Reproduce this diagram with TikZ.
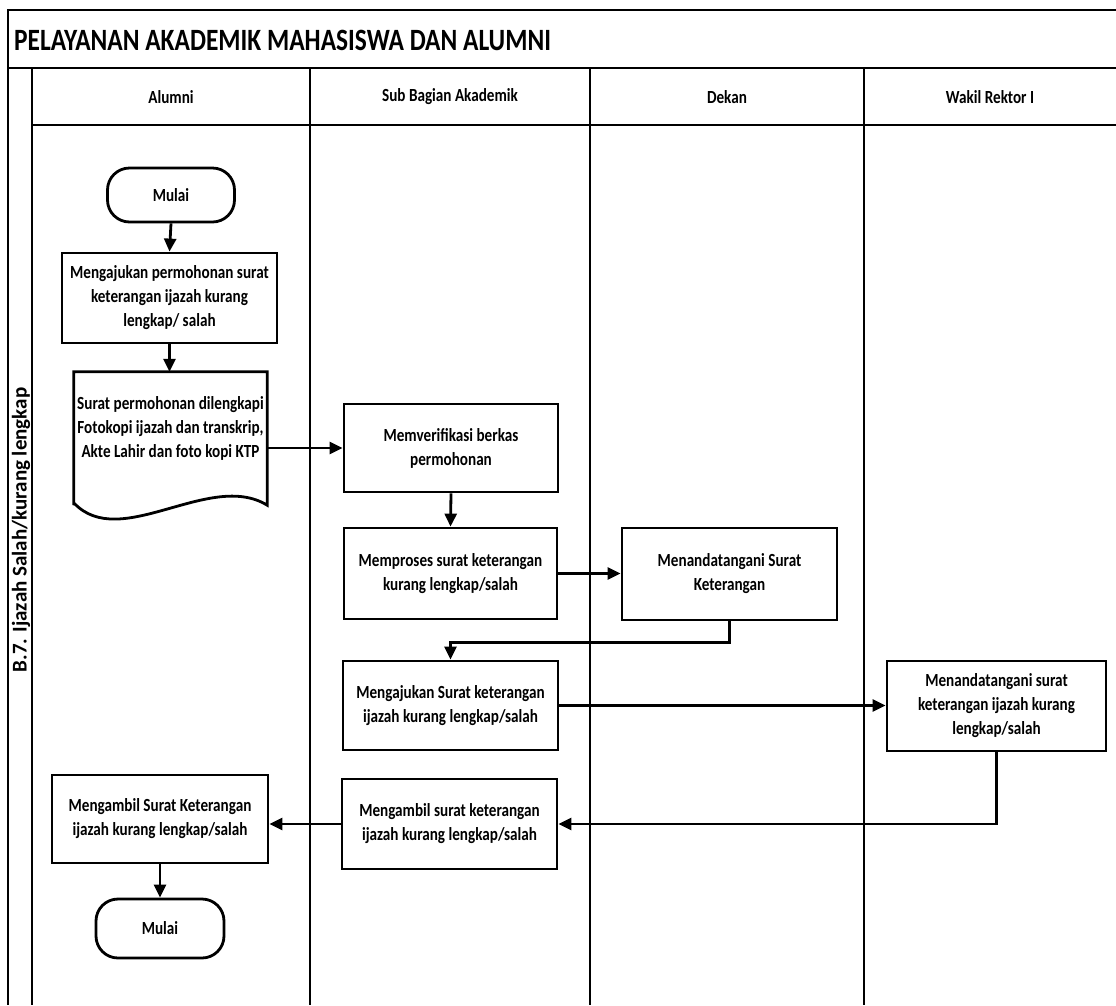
\documentclass[tikz,border=0pt]{standalone}
\usepackage{fontspec}
\setmainfont{Carlito}[FakeStretch=0.82]
\newfontfamily\vfont{Carlito}
\usetikzlibrary{arrows.meta,calc}
\tikzset{
  x=1pt,y=-1pt,
  lane/.style={line width=2.2pt},
  boxst/.style={draw, line width=2.8pt, align=center, inner sep=0pt,
    font=\fontsize{18.5}{24}\selectfont\bfseries},
  termst/.style={boxst, rounded corners=22pt},
  txt/.style={align=center, inner sep=0pt, font=\fontsize{18.5}{24}\selectfont\bfseries},
  arr/.style={line width=2.8pt, -{Triangle[length=13pt,width=12pt]}},
  conn/.style={line width=2.8pt},
}
\begin{document}
\begin{tikzpicture}
\useasboundingbox (0,0) rectangle (1116,1005);
\fill[white] (0,0) rectangle (1116,1005);
% frame and lanes
\draw[lane] (1116,10) -- (8,10) -- (8,1005);
\draw[lane] (8,68) -- (1116,68);
\draw[lane] (32,68) -- (32,1005);
\draw[lane] (32,125) -- (1116,125);
\draw[lane] (310,68) -- (310,1005);
\draw[lane] (590,68) -- (590,1005);
\draw[lane] (864,68) -- (864,1005);
% title and headers
\node[anchor=west, inner sep=0pt, font=\fontsize{31}{33}\selectfont\bfseries] (title) at (14,40) {PELAYANAN AKADEMIK MAHASISWA DAN ALUMNI};
\node[txt] (h1) at (171,97) {Alumni};
\node[txt] (h2) at (450,97) {Sub Bagian Akademik};
\node[txt] (h3) at (727,97) {Dekan};
\node[txt] (h4) at (990,97) {Wakil Rektor I};
\node[rotate=90, inner sep=0pt, font=\vfont\fontsize{21}{23}\selectfont\bfseries] (vlab) at (21,530) {B.7. Ijazah Salah/kurang lengkap};
% nodes
\node[termst, minimum width=127pt, minimum height=54pt] (start) at (171,195) {Mulai};
\node[boxst, minimum width=215pt, minimum height=90pt] (b1) at (169.5,298) {Mengajukan permohonan surat\\keterangan ijazah kurang\\lengkap/ salah};
\node[inner sep=0pt, minimum width=193pt, minimum height=133pt] (doc) at (170.5,438.5) {};
\draw[conn, line join=miter] (doc.south west) -- (doc.north west) -- (doc.north east) -- (doc.south east)
  .. controls (210,470) and (120,552) .. (74,503) -- cycle;
\node[txt] (doct) at (170.5,428) {Surat permohonan dilengkapi\\Fotokopi ijazah dan transkrip,\\Akte Lahir dan foto kopi KTP};
\node[boxst, minimum width=214pt, minimum height=88pt] (verif) at (451,448) {Memverifikasi berkas\\permohonan};
\node[boxst, minimum width=213pt, minimum height=91pt] (proses) at (450.5,573.5) {Memproses surat keterangan\\kurang lengkap/salah};
\node[boxst, minimum width=215pt, minimum height=92pt] (ttd) at (729.5,574) {Menandatangani Surat\\Keterangan};
\node[boxst, minimum width=215pt, minimum height=89pt] (ajukan) at (450.5,705.5) {Mengajukan Surat keterangan\\ijazah kurang lengkap/salah};
\node[boxst, minimum width=219pt, minimum height=90pt] (wakil) at (996.5,706) {Menandatangani surat\\keterangan ijazah kurang\\lengkap/salah};
\node[boxst, minimum width=215pt, minimum height=90pt] (ambilS) at (449.5,824) {Mengambil surat keterangan\\ijazah kurang lengkap/salah};
\node[boxst, minimum width=216pt, minimum height=88pt] (ambilA) at (160,819) {Mengambil Surat Keterangan\\ijazah kurang lengkap/salah};
\node[termst, minimum width=128pt, minimum height=59pt] (end) at (160,928.5) {Mulai};
% connectors
\draw[arr] (start.south) -- (b1.north);
\draw[arr] (b1.south) -- (b1.south |- doc.north);
\draw[arr] (doc.east |- verif.west) -- (verif.west);
\draw[arr] (verif.south) -- (proses.north);
\draw[arr] (proses.east) -- (proses.east -| ttd.west);
\draw[arr] (ttd.south) -- ++(0,21) -| (ajukan.north);
\draw[arr] (ajukan.east) -- (ajukan.east -| wakil.west);
\draw[arr] (wakil.south) |- (ambilS.east);
\draw[arr] (ambilS.west) -- (ambilS.west -| ambilA.east);
\draw[arr] (ambilA.south) -- (end.north);
\end{tikzpicture}
\end{document}
